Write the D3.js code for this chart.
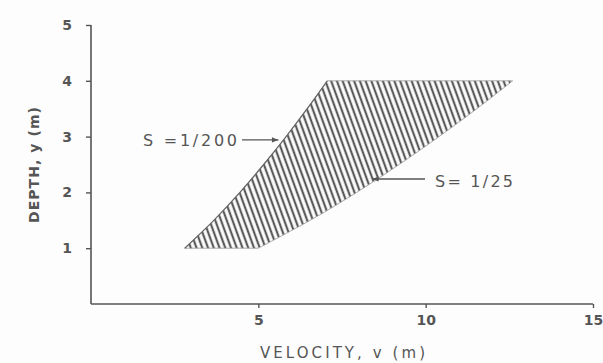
<!DOCTYPE html>
<html><head><meta charset="utf-8">
<script src="https://cdn.jsdelivr.net/npm/d3@7"></script>
<style>body{margin:0;background:#fff}svg{display:block}text{font-family:"DejaVu Sans",sans-serif;fill:#555}</style>
</head><body>
<svg id="c" width="603" height="363"></svg>
<script>
const depths = [1, 1.5, 2, 2.5, 3, 3.5, 4];
const velS200 = [2.8, 3.67, 4.45, 5.16, 5.83, 6.46, 7.06];
const velS25 = [5.0, 6.55, 7.94, 9.21, 10.4, 11.53, 12.6];
const xTicks = [5, 10, 15];
const yTicks = [1, 2, 3, 4, 5];
const labelS200 = "S =1/200";
const labelS25 = "S= 1/25";

const svg = d3.select("#c");
svg.append("rect").attr("width",603).attr("height",363).attr("fill","#fdfdfd");
const x = d3.scaleLinear().domain([0,15]).range([91,593]);
const y = d3.scaleLinear().domain([0,5]).range([304,25]);
const ink = "#555";

const defs = svg.append("defs");
const pat = defs.append("pattern").attr("id","hatch").attr("patternUnits","userSpaceOnUse")
  .attr("width",5.4).attr("height",20).attr("patternTransform","rotate(-20)");
pat.append("line").attr("x1",2.7).attr("x2",2.7).attr("y1",0).attr("y2",20)
  .attr("stroke","#5a5a5a").attr("stroke-width",2.2);
defs.append("marker").attr("id","arr").attr("viewBox","0 0 10 10").attr("refX",10).attr("refY",5)
  .attr("markerWidth",6).attr("markerHeight",5).attr("orient","auto")
  .append("path").attr("d","M0,1L10,5L0,9Z").attr("fill",ink);

const left = depths.map((d,i)=>[velS200[i], d]);
const right = depths.map((d,i)=>[velS25[i], d]);
const curve = d3.line().x(p=>x(p[0])).y(p=>y(p[1])).curve(d3.curveCatmullRom);

const pathD = curve(left) + "L" + curve(right.slice().reverse()).slice(1) + "Z";
svg.append("path").attr("d", pathD).attr("fill","url(#hatch)").attr("stroke","#999").attr("stroke-width",0.8);
svg.append("path").attr("d", curve(left)).attr("fill","none").attr("stroke","#666").attr("stroke-width",1.2);

const gx = svg.append("g").attr("transform","translate(0,304)")
  .call(d3.axisBottom(x).tickValues(xTicks).tickFormat(d3.format("d")).tickSize(4).tickPadding(7));
const gy = svg.append("g").attr("transform","translate(91,0)")
  .call(d3.axisLeft(y).tickValues(yTicks).tickFormat(d3.format("d")).tickSize(5).tickPadding(14));
[gx,gy].forEach(g=>{
  g.select(".domain").attr("stroke",ink).attr("stroke-width",1.6);
  g.selectAll(".tick line").attr("stroke",ink).attr("stroke-width",1.4);
  g.selectAll(".tick text").attr("font-size",14).attr("font-weight","bold").attr("fill","#555").attr("font-family","DejaVu Sans, sans-serif");
});
gx.select(".domain").attr("d","M91,0H593");
gy.select(".domain").attr("d","M0,25V304");

svg.append("text").attr("x",260).attr("y",358).attr("font-size",15)
  .attr("textLength",165).attr("lengthAdjust","spacing").text("VELOCITY, v (m)");
svg.append("text").attr("transform","translate(39,223) rotate(-90)")
  .attr("font-size",14).attr("font-weight","bold")
  .attr("textLength",116).attr("lengthAdjust","spacing").text("DEPTH, y (m)");

svg.append("text").attr("x",143).attr("y",146).attr("font-size",16)
  .attr("textLength",94).attr("lengthAdjust","spacing").text(labelS200);
svg.append("line").attr("x1",242).attr("x2",x(5.6)).attr("y1",y(2.94)).attr("y2",y(2.94))
  .attr("stroke",ink).attr("stroke-width",1.3).attr("marker-end","url(#arr)");
svg.append("text").attr("x",435).attr("y",187).attr("font-size",16)
  .attr("textLength",78).attr("lengthAdjust","spacing").text(labelS25);
svg.append("line").attr("x1",425).attr("x2",x(8.4)).attr("y1",y(2.24)).attr("y2",y(2.24))
  .attr("stroke",ink).attr("stroke-width",1.3).attr("marker-end","url(#arr)");
</script>
</body></html>
